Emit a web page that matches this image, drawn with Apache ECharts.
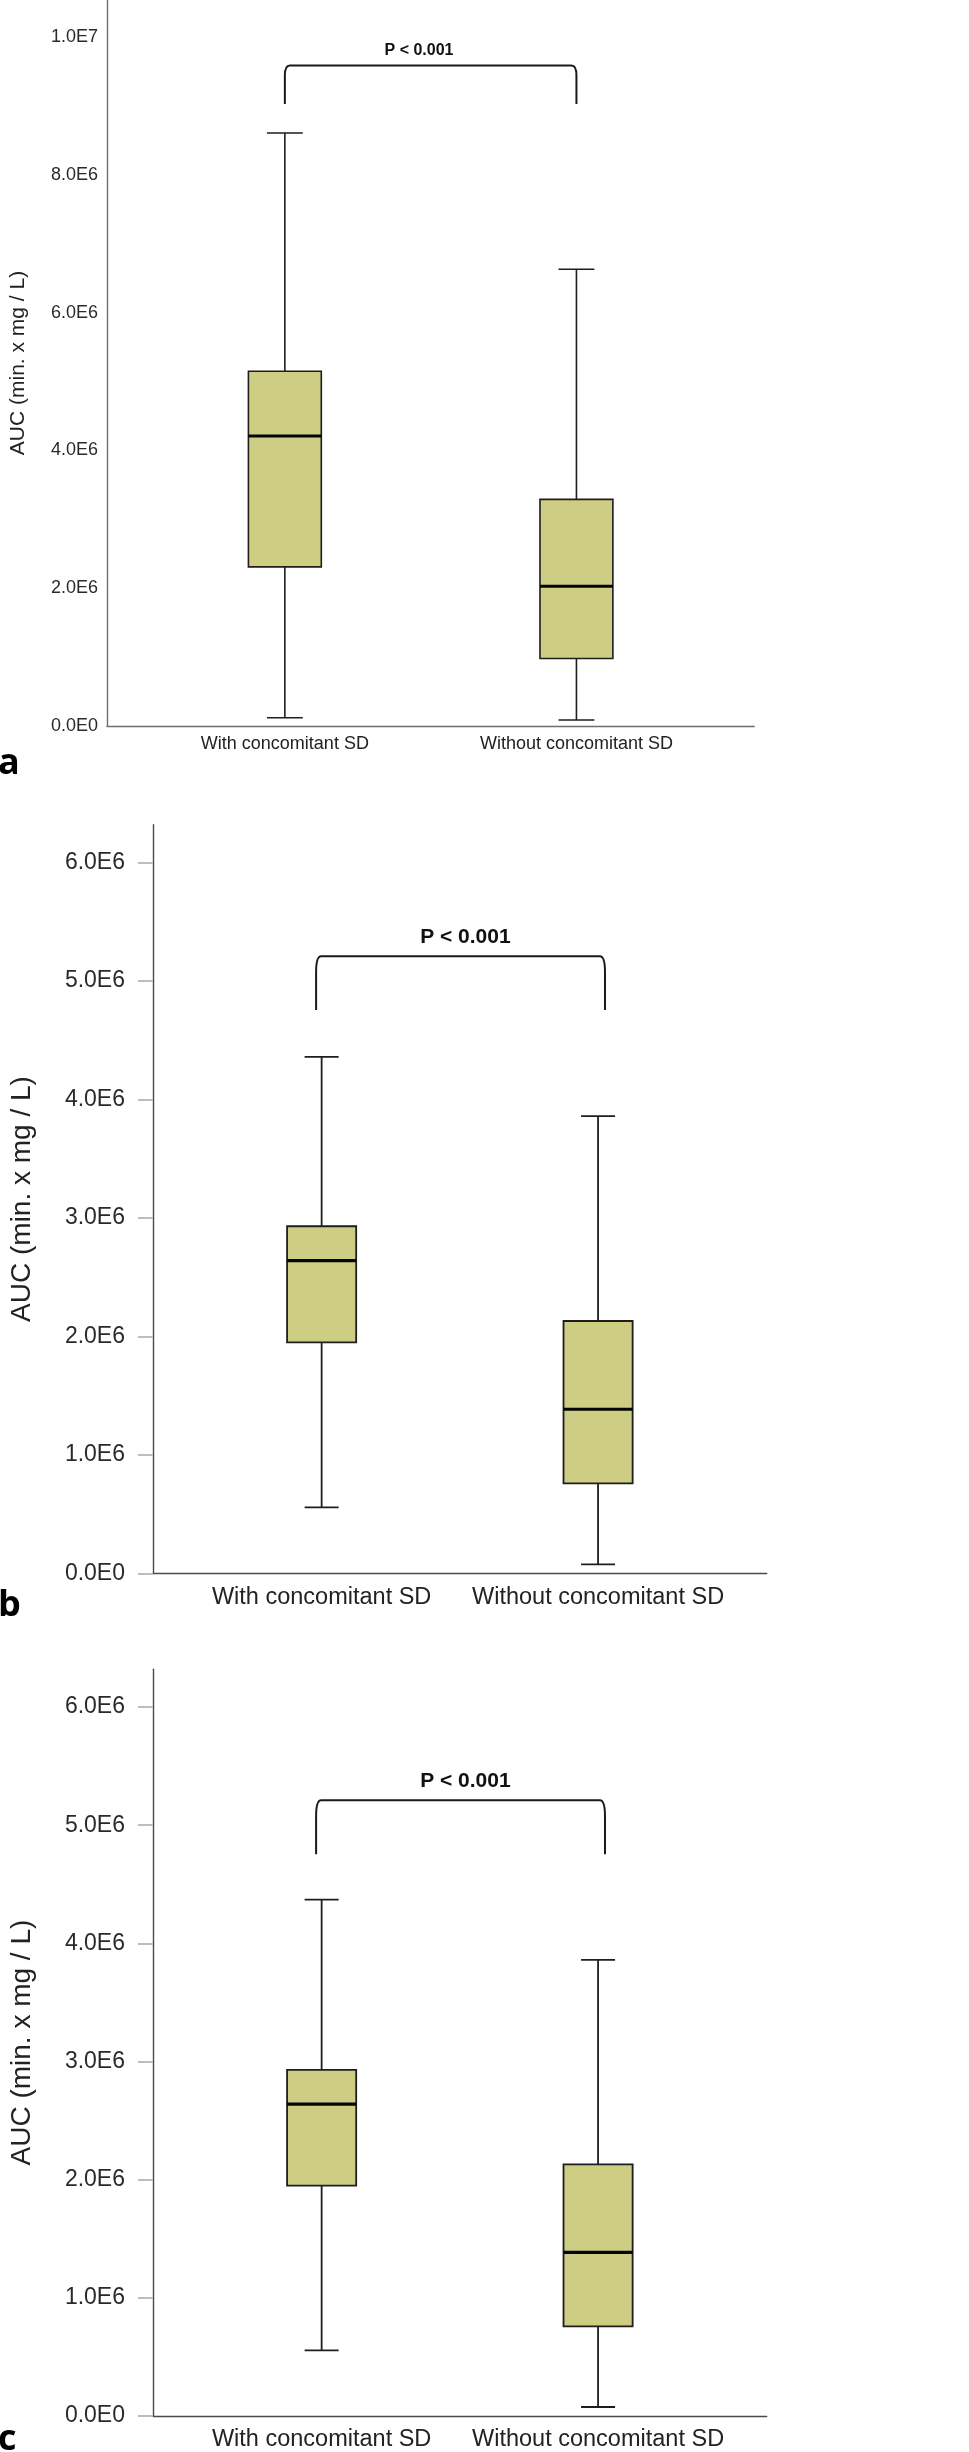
<!DOCTYPE html>
<html>
<head>
<meta charset="utf-8">
<script src="https://cdn.jsdelivr.net/npm/echarts@6/dist/echarts.min.js"></script>
<style>
html,body{margin:0;padding:0;background:#fff;}
#chart{width:969px;height:2452px;}
</style>
</head>
<body>
<div id="chart"></div>
<script>
// ---------- data ----------
const categories = ['With concomitant SD', 'Without concomitant SD'];
// box statistics: [min, Q1, median, Q3, max]
const panelA_with    = [0.12e6, 2.31e6, 4.21e6, 5.15e6, 8.61e6];
const panelA_without = [0.087e6, 0.98e6, 2.03e6, 3.29e6, 6.63e6];
const panelB_with    = [0.556e6, 1.95e6, 2.64e6, 2.93e6, 4.36e6];
const panelB_without = [0.076e6, 0.759e6, 1.385e6, 2.13e6, 3.86e6];
const panelC_with    = [0.556e6, 1.95e6, 2.64e6, 2.93e6, 4.37e6];
const panelC_without = [0.076e6, 0.759e6, 1.385e6, 2.13e6, 3.86e6];
const yTicksA  = [0, 2e6, 4e6, 6e6, 8e6, 1e7];
const yTicksBC = [0, 1e6, 2e6, 3e6, 4e6, 5e6, 6e6];
const yMaxA  = 1.054e7;
const yMaxBC = 6.32e6;
const pLabel = 'P < 0.001';
// bracket: [x left, x right, y top, y leg end]
const bracketA = [0, 1, 9.59e6, 9.03e6];
const bracketB = [-0.02, 1.025, 5.21e6, 4.755e6];
const bracketC = [-0.02, 1.025, 5.21e6, 4.755e6];
// p-label position [x, y]
const pPosA = [0.46, 9.80e6];
const pPosB = [0.52, 5.37e6];
const pPosC = [0.52, 5.37e6];
const panelLetters = ['a', 'b', 'c'];
const yName = 'AUC (min. x mg / L)';

// ---------- helpers ----------
const FONT = '"Liberation Sans", Arial, Helvetica, sans-serif';
function sci(v) {
  if (v === 0) return '0.0E0';
  const e = Math.floor(Math.log10(v) + 1e-9);
  return (v / Math.pow(10, e)).toFixed(1) + 'E' + e;
}

const panels = [
  { grid: {left: 104.3, top: 0, width: 650, height: 726},
    boxes: [panelA_with, panelA_without], ticks: yTicksA, yMax: yMaxA,
    bracket: bracketA, pPos: pPosA,
    tickFont: 18, xFont: 18, nameFont: 21, pFont: 16,
    labelMargin: 9, xMargin: 9, nameGap: 78, showTick: false,
    axisColor: '#6e6e6e', rx: 5, ry: 10, lw: 1.6, boxLw: 1.6, medLw: 3 },
  { grid: {left: 147, top: 824.7, width: 619.7, height: 748.6},
    boxes: [panelB_with, panelB_without], ticks: yTicksBC, yMax: yMaxBC,
    bracket: bracketB, pPos: pPosB,
    tickFont: 23, xFont: 23.5, nameFont: 28, pFont: 21,
    labelMargin: 28, xMargin: 12, nameGap: 117, showTick: true,
    axisColor: '#4a4a4a', rx: 5, ry: 16, lw: 1.8, boxLw: 1.8, medLw: 3.2 },
  { grid: {left: 147, top: 1669.2, width: 619.7, height: 748.6},
    boxes: [panelC_with, panelC_without], ticks: yTicksBC, yMax: yMaxBC,
    bracket: bracketC, pPos: pPosC,
    tickFont: 23, xFont: 23.5, nameFont: 28, pFont: 21,
    labelMargin: 28, xMargin: 12, nameGap: 117, showTick: true,
    axisColor: '#4a4a4a', rx: 5, ry: 16, lw: 1.8, boxLw: 1.8, medLw: 3.2 }
];

const grids = [], xAxes = [], yAxes = [], series = [];
panels.forEach((p, i) => {
  grids.push(Object.assign({containLabel: false}, p.grid));
  xAxes.push({
    gridIndex: i, type: 'value', min: -0.61, max: 1.61,
    splitLine: {show: false},
    axisTick: {show: false},
    axisLine: {show: true, onZero: false, lineStyle: {color: p.axisColor, width: 1.4}},
    axisLabel: {
      customValues: [0, 1],
      formatter: v => categories[Math.round(v)],
      fontSize: p.xFont, fontFamily: FONT, color: '#222', margin: p.xMargin
    }
  });
  yAxes.push({
    gridIndex: i, type: 'value', min: 0, max: p.yMax,
    splitLine: {show: false},
    axisLine: {show: true, onZero: false, lineStyle: {color: p.axisColor, width: 1.4}},
    axisTick: {show: p.showTick, customValues: p.ticks, length: 15, inside: false,
               lineStyle: {color: '#bdbdbd', width: 2}},
    axisLabel: {customValues: p.ticks, formatter: sci, fontSize: p.tickFont,
                fontFamily: FONT, color: '#2a2a2a', margin: p.labelMargin},
    name: yName, nameLocation: 'middle', nameGap: p.nameGap, nameRotate: 90,
    nameTextStyle: {fontSize: p.nameFont, fontFamily: FONT, color: '#222'}
  });
  // box plots
  series.push({
    type: 'custom', xAxisIndex: i, yAxisIndex: i, clip: false,
    data: p.boxes.map((b, k) => [k].concat(b)),
    encode: {x: 0, y: [1, 2, 3, 4, 5]},
    renderItem: (params, api) => {
      const x = api.value(0);
      const c = v => api.coord([x, v]);
      const cx = c(api.value(1))[0];
      const yMin = c(api.value(1))[1], yQ1 = c(api.value(2))[1], yMed = c(api.value(3))[1],
            yQ3 = c(api.value(4))[1], yMx = c(api.value(5))[1];
      const bw = api.size([0.25, 0])[0];
      const cw = api.size([0.123, 0])[0];
      const ls = {stroke: '#1e1e1e', lineWidth: p.lw};
      return {type: 'group', children: [
        {type: 'line', shape: {x1: cx, y1: yMx, x2: cx, y2: yQ3}, style: ls},
        {type: 'line', shape: {x1: cx, y1: yQ1, x2: cx, y2: yMin}, style: ls},
        {type: 'line', shape: {x1: cx - cw / 2, y1: yMx, x2: cx + cw / 2, y2: yMx}, style: ls},
        {type: 'line', shape: {x1: cx - cw / 2, y1: yMin, x2: cx + cw / 2, y2: yMin}, style: ls},
        {type: 'rect', shape: {x: cx - bw / 2, y: yQ3, width: bw, height: yQ1 - yQ3},
         style: {fill: '#cdce84', stroke: '#1e1e1e', lineWidth: p.boxLw}},
        {type: 'line', shape: {x1: cx - bw / 2, y1: yMed, x2: cx + bw / 2, y2: yMed},
         style: {stroke: '#050505', lineWidth: p.medLw}}
      ]};
    }
  });
  // significance bracket + label
  series.push({
    type: 'custom', xAxisIndex: i, yAxisIndex: i, clip: false,
    data: [p.bracket.concat(p.pPos)],
    encode: {x: [0, 1, 4], y: [2, 3, 5]},
    renderItem: (params, api) => {
      const tl = api.coord([api.value(0), api.value(2)]);
      const tr = api.coord([api.value(1), api.value(2)]);
      const bl = api.coord([api.value(0), api.value(3)]);
      const tp = api.coord([api.value(4), api.value(5)]);
      const xl = tl[0], xr = tr[0], yt = tl[1], yb = bl[1];
      const rx = p.rx, ry = p.ry;
      const d = `M${xl} ${yb} L${xl} ${yt + ry} Q${xl} ${yt} ${xl + rx} ${yt} L${xr - rx} ${yt} Q${xr} ${yt} ${xr} ${yt + ry} L${xr} ${yb}`;
      return {type: 'group', children: [
        {type: 'path', shape: {pathData: d}, style: {stroke: '#1a1a1a', lineWidth: 2, fill: null}},
        {type: 'text', x: tp[0], y: tp[1],
         style: {text: pLabel, fill: '#111', align: 'center', verticalAlign: 'middle',
                 font: `bold ${p.pFont}px ${FONT}`}}
      ]};
    }
  });
});

const letterTops = [746, 1588, 2422];
const graphic = panelLetters.map((t, i) => ({
  type: 'text', left: -2, top: letterTops[i],
  style: {text: t, font: 'bold 36px "Open Sans", "DejaVu Sans", sans-serif', fill: '#000'}
}));

const chart = echarts.init(document.getElementById('chart'), null, {renderer: 'canvas'});
chart.setOption({
  animation: false,
  backgroundColor: '#fff',
  grid: grids, xAxis: xAxes, yAxis: yAxes, series: series, graphic: graphic
});
</script>
</body>
</html>
